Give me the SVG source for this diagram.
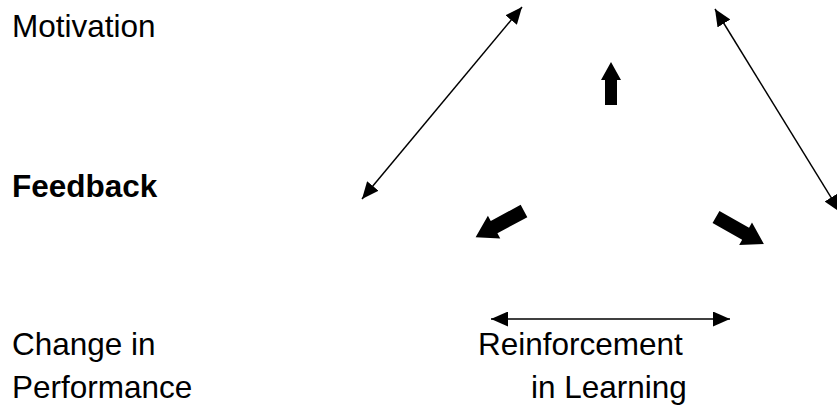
<svg xmlns="http://www.w3.org/2000/svg" width="837" height="414" viewBox="0 0 837 414">
  <style>
    .lbl { font-family: "Liberation Sans", Arial, sans-serif; font-size: 31.5px; fill: #000; }
    .bold { font-weight: bold; }
    .link { stroke: #000; stroke-width: 1.5; fill: none; marker-start: url(#head); marker-end: url(#head); }
    .block { fill: #000; }
  </style>
  <defs>
    <marker id="head" viewBox="0 0 17 15" refX="17" refY="7.5" markerWidth="17" markerHeight="15" markerUnits="userSpaceOnUse" orient="auto-start-reverse">
      <path d="M0,0 L17,7.5 L0,15 Z" fill="#000"/>
    </marker>
    <!-- thick block arrows pointing along +x, tail at origin -->
    <path id="blockArrow" d="M0,-7 L34,-7 L34,-13 L55,0 L34,13 L34,7 L0,7 Z"/>
    <path id="blockArrowUp" d="M0,-6 L25,-6 L25,-10 L43,0 L25,10 L25,6 L0,6 Z"/>
  </defs>

  <g id="motivation"><text class="lbl" x="12" y="37">Motivation</text></g>
  <g id="feedback"><text class="lbl bold" x="12" y="197">Feedback</text></g>
  <g id="change"><text class="lbl" x="12" y="355">Change in</text><text class="lbl" x="12" y="398">Performance</text></g>
  <g id="reinforcement"><text class="lbl" x="478" y="355">Reinforcement</text><text class="lbl" x="531" y="398">in Learning</text></g>

  <g id="connectors">
    <line class="link" x1="362" y1="199" x2="522" y2="7"/>
    <line class="link" x1="715" y1="9" x2="840" y2="212"/>
    <line class="link" x1="491" y1="319" x2="730" y2="319"/>
    <use href="#blockArrowUp" class="block" transform="translate(611,105) rotate(-90)"/>
    <use href="#blockArrow" class="block" transform="translate(524,211) rotate(151.6)"/>
    <use href="#blockArrow" class="block" transform="translate(716,217) rotate(29.5)"/>
  </g>
</svg>
